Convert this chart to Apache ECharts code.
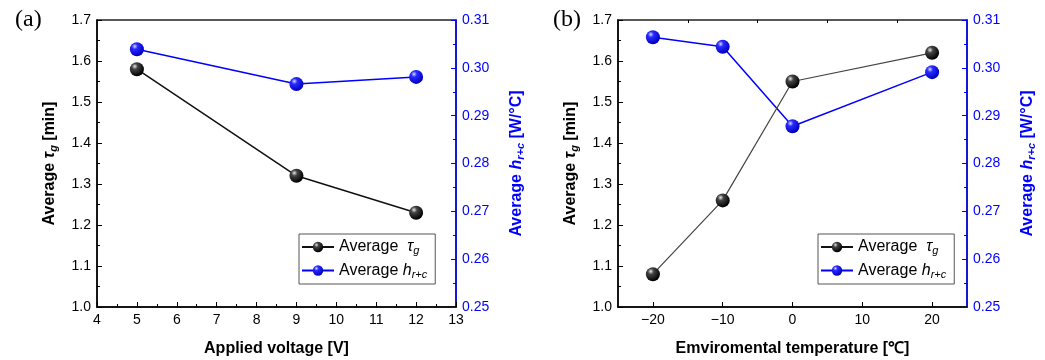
<!DOCTYPE html>
<html>
<head>
<meta charset="utf-8">
<script src="https://cdn.jsdelivr.net/npm/echarts@6/dist/echarts.min.js"></script>
<style>
  html, body { margin: 0; padding: 0; background: #fff; }
  #main { width: 1045px; height: 360px; }
</style>
</head>
<body>
<div id="main"></div>
<script>
var app = echarts.init(document.getElementById('main'));

// (a) applied voltage
var voltage = [5, 9, 12];
var tauVoltage = [1.58, 1.32, 1.23];
var hVoltage = [0.3039, 0.2966, 0.2981];
var voltLabels = [4, 5, 6, 7, 8, 9, 10, 11, 12, 13];

// (b) environmental temperature
var temperature = [-20, -10, 0, 20];
var tauTemp = [1.08, 1.26, 1.55, 1.62];
var hTemp = [0.3064, 0.3044, 0.2878, 0.2991];
var tempLabels = [-20, -10, 0, 10, 20];
var tempMinor = [-15, -5, 5, 15];

var BLUE = '#0000ff';
var FONT = 'Liberation Sans, Arial, sans-serif';

var ballBlack = new echarts.graphic.RadialGradient(0.35, 0.3, 0.7, [
  {offset: 0, color: '#e8e8e8'},
  {offset: 0.3, color: '#444'},
  {offset: 1, color: '#000'}
]);
var ballBlue = new echarts.graphic.RadialGradient(0.35, 0.3, 0.7, [
  {offset: 0, color: '#d0dcff'},
  {offset: 0.3, color: '#2a2aff'},
  {offset: 1, color: '#0000c0'}
]);

var subRich = {
  i: {fontStyle: 'italic', fontSize: 16, fontFamily: FONT},
  s: {fontStyle: 'italic', fontSize: 11, padding: [8, 0, 0, 0], fontFamily: FONT}
};
var subRichBold = {
  i: {fontStyle: 'italic', fontWeight: 'bold', fontSize: 16, fontFamily: FONT},
  s: {fontStyle: 'italic', fontWeight: 'bold', fontSize: 11, padding: [8, 0, 0, 0], fontFamily: FONT}
};

function minus(v) { return String(v).replace('-', '\u2212'); }

function yLeft(gi) {
  return {
    gridIndex: gi, type: 'value', position: 'left',
    min: 1.0, max: 1.7, interval: 0.1,
    name: 'Average {i|\u03c4}{s|g} [min]', nameLocation: 'middle', nameGap: 38,
    nameTextStyle: {fontSize: 16, fontWeight: 'bold', color: '#000', fontFamily: FONT, rich: subRichBold},
    axisLine: {show: true, onZero: false, lineStyle: {color: '#000', width: 1.5}},
    axisTick: {inside: true, length: 5, lineStyle: {color: '#000'}},
    minorTick: {show: true, splitNumber: 2, length: 3, lineStyle: {color: '#000'}},
    splitLine: {show: false},
    axisLabel: {fontSize: 14, color: '#000', fontFamily: FONT, margin: 6,
      formatter: function (v) { return v.toFixed(1); }}
  };
}
function yRight(gi) {
  var subBlue = {
    i: {fontStyle: 'italic', fontWeight: 'bold', fontSize: 16, color: BLUE, fontFamily: FONT},
    s: {fontStyle: 'italic', fontWeight: 'bold', fontSize: 11, color: BLUE, padding: [8, 0, 0, 0], fontFamily: FONT}
  };
  return {
    gridIndex: gi, type: 'value', position: 'right',
    min: 0.25, max: 0.31, interval: 0.01,
    name: 'Average {i|h}{s|r+c} [W/\u00b0C]', nameLocation: 'middle', nameGap: 51,
    nameRotate: 90,
    nameTextStyle: {fontSize: 16, fontWeight: 'bold', color: BLUE, fontFamily: FONT, rich: subBlue},
    axisLine: {show: true, onZero: false, lineStyle: {color: BLUE, width: 1.5}},
    axisTick: {inside: true, length: 5, lineStyle: {color: BLUE}},
    minorTick: {show: true, splitNumber: 2, length: 3, lineStyle: {color: BLUE}},
    splitLine: {show: false},
    axisLabel: {fontSize: 14, color: BLUE, fontFamily: FONT, margin: 6,
      formatter: function (v) { return v.toFixed(2); }}
  };
}

function legendFmt(name) {
  return name === 'tau' ? 'Average  {i|\u03c4}{s|g}' : 'Average {i|h}{s|r+c}';
}
function legend(left) {
  return {
    left: left, top: 234, orient: 'vertical',
    data: ['tau', 'h'],
    borderColor: '#555', borderWidth: 1, padding: [5, 8, 4, 2],
    itemWidth: 32, itemHeight: 13, itemGap: 6,
    formatter: legendFmt,
    textStyle: {fontSize: 16, color: '#000', fontFamily: FONT, rich: subRich}
  };
}

function lineSeries(name, xi, yi, xs, ys, color, ball, lw) {
  return {
    name: name, type: 'line', xAxisIndex: xi, yAxisIndex: yi,
    data: xs.map(function (x, k) { return [x, ys[k]]; }),
    symbol: 'circle', symbolSize: 14,
    lineStyle: {color: color, width: lw},
    itemStyle: {color: ball, borderWidth: 0},
    emphasis: {disabled: true},
    z: name === 'tau' ? 3 : 2
  };
}

option = {
  animation: false,
  grid: [
    {left: 97, right: 589, top: 20, bottom: 53, outerBoundsMode: 'none', containLabel: false,
      show: true, borderColor: '#222', borderWidth: 1.5},
    {left: 618, right: 78, top: 20, bottom: 53, outerBoundsMode: 'none', containLabel: false,
      show: true, borderColor: '#222', borderWidth: 1.5}
  ],
  graphic: [
    {type: 'text', left: 15, top: 8, style: {text: '(a)', fontSize: 24, fontFamily: 'Liberation Serif, serif', fill: '#000'}},
    {type: 'text', left: 553, top: 8, style: {text: '(b)', fontSize: 24, fontFamily: 'Liberation Serif, serif', fill: '#000'}}
  ],
  legend: [legend(299), legend(818)],
  xAxis: [
    {
      gridIndex: 0, type: 'value', min: 4, max: 13, interval: 1,
      name: 'Applied voltage [V]', nameLocation: 'middle', nameGap: 34,
      nameTextStyle: {fontSize: 16, fontWeight: 'bold', color: '#000', fontFamily: FONT},
      axisLine: {onZero: false, lineStyle: {color: '#000', width: 1.5}},
      axisTick: {inside: true, length: 5, lineStyle: {color: '#000'}},
      minorTick: {show: true, splitNumber: 2, length: 3, lineStyle: {color: '#000'}},
      splitLine: {show: false},
      axisLabel: {fontSize: 14, color: '#000', fontFamily: FONT, margin: 6,
        customValues: voltLabels, hideOverlap: false}
    },
    {
      gridIndex: 1, type: 'value', min: -25, max: 25, interval: 5,
      name: 'Emviromental temperature [\u2103]', nameLocation: 'middle', nameGap: 34,
      nameTextStyle: {fontSize: 16, fontWeight: 'bold', color: '#000', fontFamily: FONT},
      axisLine: {onZero: false, lineStyle: {color: '#000', width: 1.5}},
      axisTick: {inside: true, length: 5, customValues: tempLabels, lineStyle: {color: '#000'}},
      splitLine: {show: false},
      axisLabel: {fontSize: 14, color: '#000', fontFamily: FONT, margin: 6,
        customValues: tempLabels, formatter: minus}
    },
    {
      gridIndex: 1, type: 'value', min: -25, max: 25, interval: 5,
      axisLine: {show: false, onZero: false},
      axisTick: {inside: true, length: 3, customValues: tempMinor, lineStyle: {color: '#000'}},
      axisLabel: {show: false},
      splitLine: {show: false}
    }
  ],
  yAxis: [yLeft(0), yRight(0), yLeft(1), yRight(1)],
  series: [
    lineSeries('tau', 0, 0, voltage, tauVoltage, '#111', ballBlack, 1.5),
    lineSeries('h', 0, 1, voltage, hVoltage, BLUE, ballBlue, 1.5),
    lineSeries('tau', 1, 2, temperature, tauTemp, '#444', ballBlack, 1.2),
    lineSeries('h', 1, 3, temperature, hTemp, BLUE, ballBlue, 1.5)
  ]
};

app.setOption(option);
</script>
</body>
</html>
